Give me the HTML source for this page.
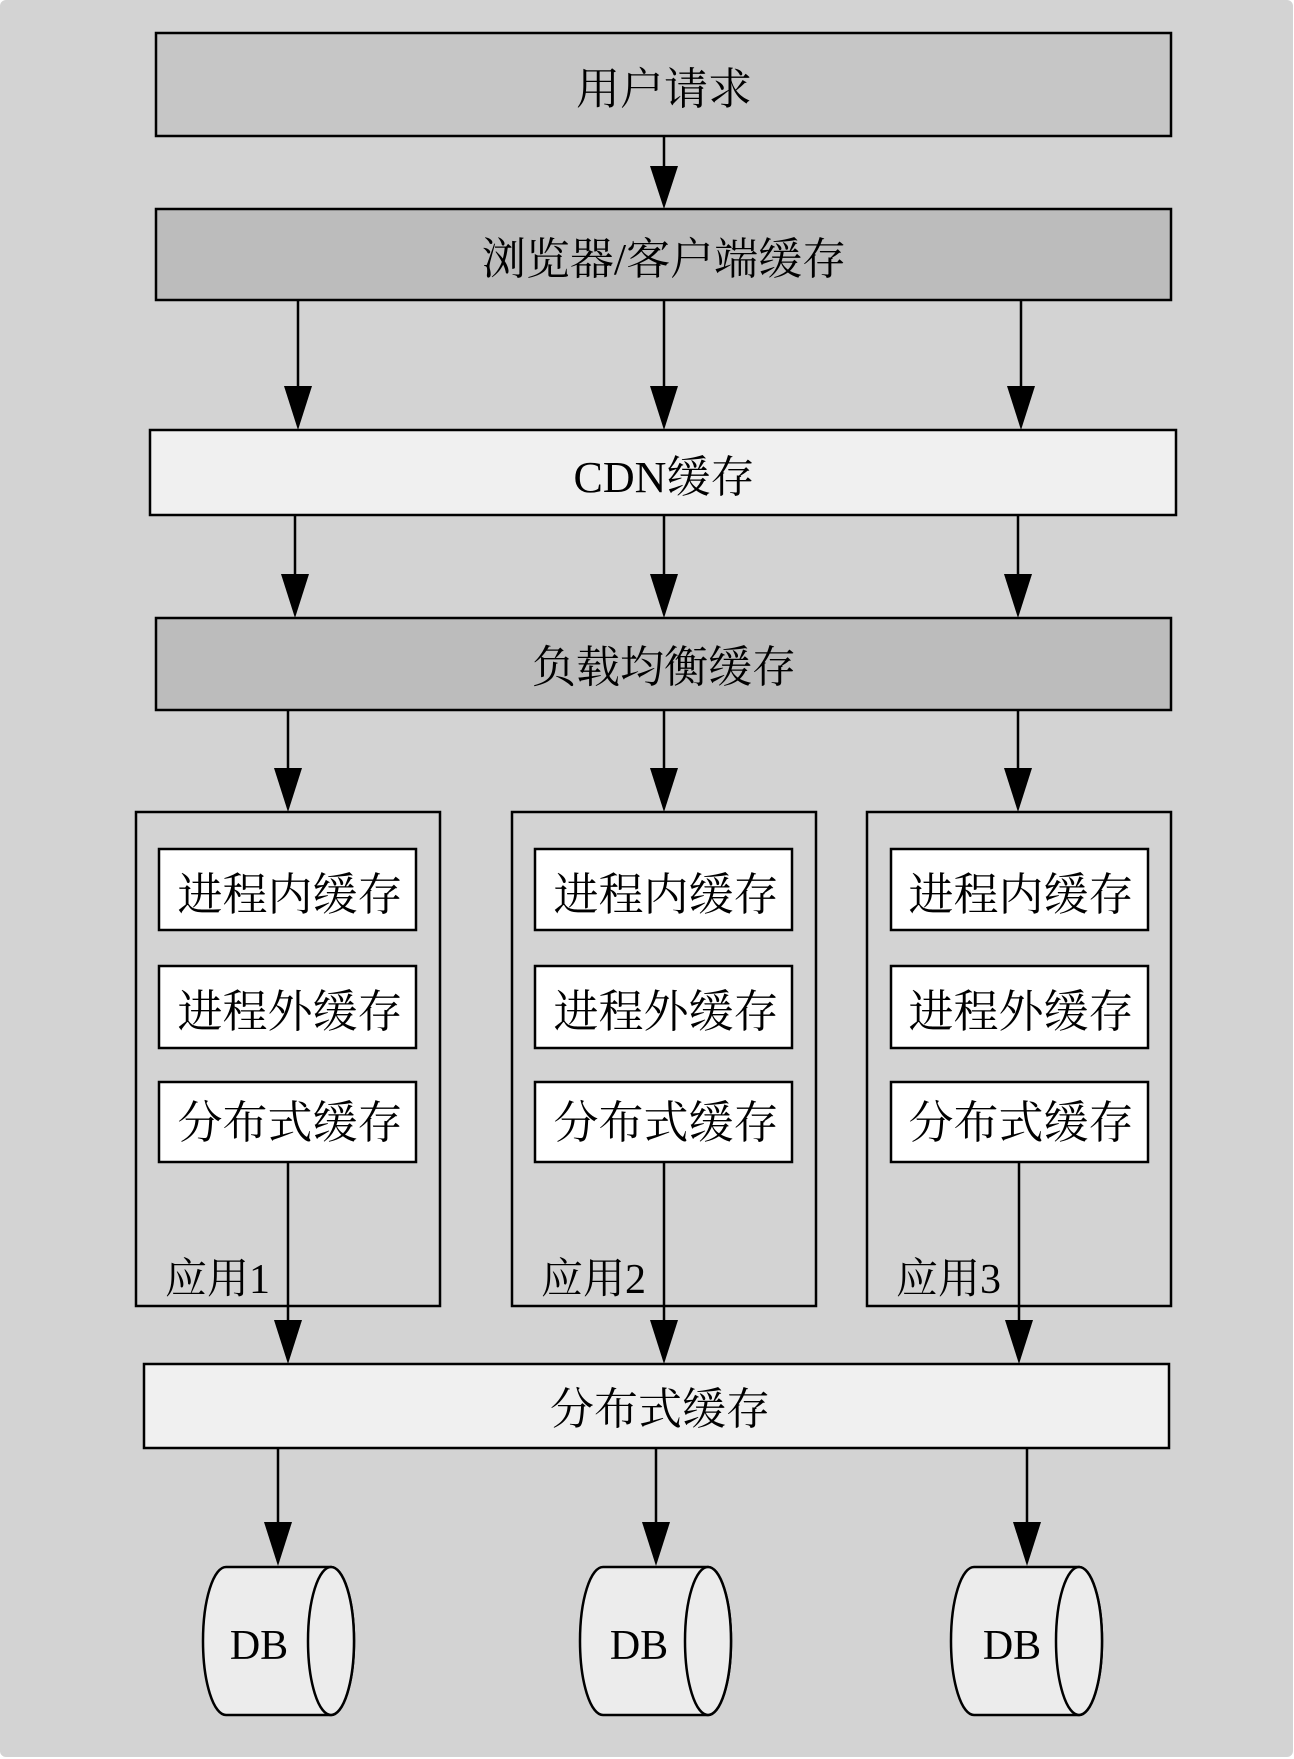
<!DOCTYPE html>
<html><head><meta charset="utf-8"><style>
html,body{margin:0;padding:0;background:#fff;}
svg{display:block;}
text{font-family:"Liberation Serif","Noto Serif CJK SC",serif;fill:#000;}
</style></head><body>
<svg width="1294" height="1759" viewBox="0 0 1294 1759" xmlns="http://www.w3.org/2000/svg">
<rect x="0" y="0" width="1293" height="1757" rx="6" fill="#d3d3d3"/>
<g stroke="#000" stroke-width="2.5">
<rect x="156" y="33" width="1015" height="103" fill="#c6c6c6"/>
<rect x="156" y="209" width="1015" height="91" fill="#bcbcbc"/>
<rect x="150" y="430" width="1026" height="85" fill="#f0f0f0"/>
<rect x="156" y="618" width="1015" height="92" fill="#bcbcbc"/>
<rect x="136" y="812" width="304" height="494" fill="#d3d3d3"/>
<rect x="512" y="812" width="304" height="494" fill="#d3d3d3"/>
<rect x="867" y="812" width="304" height="494" fill="#d3d3d3"/>
<g fill="#fff">
<rect x="159" y="849" width="257" height="81"/><rect x="159" y="966" width="257" height="82"/><rect x="159" y="1082" width="257" height="80"/>
<rect x="535" y="849" width="257" height="81"/><rect x="535" y="966" width="257" height="82"/><rect x="535" y="1082" width="257" height="80"/>
<rect x="891" y="849" width="257" height="81"/><rect x="891" y="966" width="257" height="82"/><rect x="891" y="1082" width="257" height="80"/>
</g>
<rect x="144" y="1364" width="1025" height="84" fill="#f0f0f0"/>
</g>
<g stroke="#000" stroke-width="2.5">
<line x1="664" y1="136" x2="664" y2="170"/>
<line x1="298" y1="300" x2="298" y2="390"/><line x1="664" y1="300" x2="664" y2="390"/><line x1="1021" y1="300" x2="1021" y2="390"/>
<line x1="295" y1="515" x2="295" y2="578"/><line x1="664" y1="515" x2="664" y2="578"/><line x1="1018" y1="515" x2="1018" y2="578"/>
<line x1="288" y1="710" x2="288" y2="772"/><line x1="664" y1="710" x2="664" y2="772"/><line x1="1018" y1="710" x2="1018" y2="772"/>
<line x1="288" y1="1162" x2="288" y2="1324"/><line x1="664" y1="1162" x2="664" y2="1324"/><line x1="1019" y1="1162" x2="1019" y2="1324"/>
<line x1="278" y1="1448" x2="278" y2="1526"/><line x1="656" y1="1448" x2="656" y2="1526"/><line x1="1027" y1="1448" x2="1027" y2="1526"/>
</g>
<g fill="#000">
<polygon points="650,166 678,166 664,209"/>
<polygon points="284,386 312,386 298,430"/><polygon points="650,386 678,386 664,430"/><polygon points="1007,386 1035,386 1021,430"/>
<polygon points="281,574 309,574 295,618"/><polygon points="650,574 678,574 664,618"/><polygon points="1004,574 1032,574 1018,618"/>
<polygon points="274,768 302,768 288,812"/><polygon points="650,768 678,768 664,812"/><polygon points="1004,768 1032,768 1018,812"/>
<polygon points="274,1320 302,1320 288,1364"/><polygon points="650,1320 678,1320 664,1364"/><polygon points="1005,1320 1033,1320 1019,1364"/>
<polygon points="264,1522 292,1522 278,1566"/><polygon points="642,1522 670,1522 656,1566"/><polygon points="1013,1522 1041,1522 1027,1566"/>
</g>
<g stroke="#000" stroke-width="2.5" fill="#ececec">
<path d="M226,1567 L331,1567 A23,74 0 0 1 331,1715 L226,1715 A23,74 0 0 1 226,1567 Z"/><ellipse cx="331" cy="1641" rx="23" ry="74"/>
<path d="M603,1567 L708,1567 A23,74 0 0 1 708,1715 L603,1715 A23,74 0 0 1 603,1567 Z"/><ellipse cx="708" cy="1641" rx="23" ry="74"/>
<path d="M974,1567 L1079,1567 A23,74 0 0 1 1079,1715 L974,1715 A23,74 0 0 1 974,1567 Z"/><ellipse cx="1079" cy="1641" rx="23" ry="74"/>
</g>
<g font-size="44" text-anchor="middle">
<text x="664" y="104">用户请求</text>
<text x="664" y="274">浏览器/客户端缓存</text>
<text x="664" y="492">CDN缓存</text>
<text x="664" y="682">负载均衡缓存</text>
<text x="660" y="1424">分布式缓存</text>
</g>
<g font-size="45" text-anchor="middle">
<text x="290" y="910">进程内缓存</text><text x="290" y="1027">进程外缓存</text><text x="290" y="1138">分布式缓存</text>
<text x="666" y="910">进程内缓存</text><text x="666" y="1027">进程外缓存</text><text x="666" y="1138">分布式缓存</text>
<text x="1021" y="910">进程内缓存</text><text x="1021" y="1027">进程外缓存</text><text x="1021" y="1138">分布式缓存</text>
</g>
<g font-size="42" text-anchor="middle">
<text x="259" y="1659">DB</text><text x="639" y="1659">DB</text><text x="1012" y="1659">DB</text>
</g>
<g font-size="42">
<text x="165" y="1293">应用1</text>
<text x="541" y="1293">应用2</text>
<text x="896" y="1293">应用3</text>
</g>
</svg>
</body></html>
